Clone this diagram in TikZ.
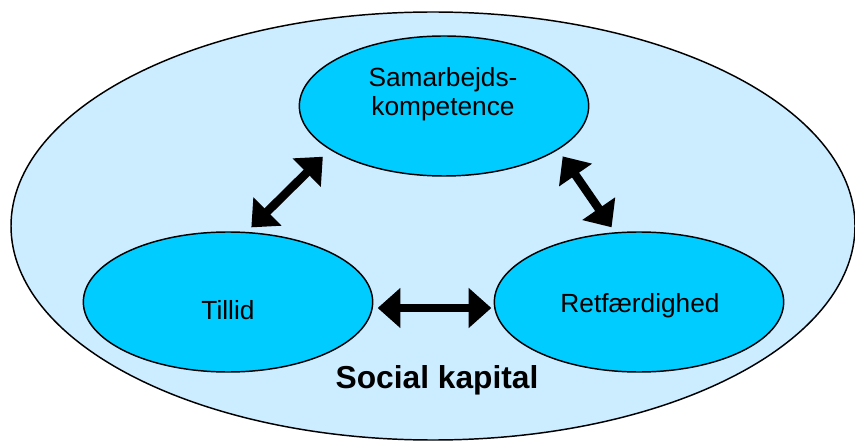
\documentclass[tikz,border=0pt]{standalone}
\usepackage{fontspec}
\setmainfont{Liberation Sans}
\usetikzlibrary{arrows.meta,positioning,shapes.geometric}
\definecolor{lysblaa}{HTML}{CCECFF}
\definecolor{cyanblaa}{HTML}{00CCFF}

\begin{document}
\begin{tikzpicture}[x=0.75pt, y=-0.75pt,
    felt/.style={ellipse, draw, line width=1.1pt, fill=cyanblaa, minimum width=217pt, minimum height=105pt},
    tekst/.style={font=\fontsize{19.7}{21.75}\selectfont, align=center},
    dobbelpil/.style={line width=6.4pt, {Triangle[length=17pt,width=29pt]}-{Triangle[length=17pt,width=29pt]}}]
      \useasboundingbox (0,0) rectangle (855,441);

      % Social kapital (ydre ellipse)
      \node[ellipse, draw, line width=1.1pt, fill=lysblaa, minimum width=633pt, minimum height=321pt] (kapital) at (433,226) {};
      \node[font=\fontsize{23.8}{28}\selectfont\bfseries] (kapitaltxt) at (437,380) {Social kapital};

      % De tre felter
      \node[felt] (samarb) at (444,106) {};
      \node[felt] (tillid) at (228,302) {};
      \node[felt] (ret) at (639,302) {};
      \node[tekst] (samarbtxt) at (443,94) {Samarbejds-\\kompetence};
      \node[tekst] (tillidtxt) at (228,310) {Tillid};
      \node[tekst] (rettxt) at (640,306) {Retfærdighed};

      % Pile mellem felterne
      \draw[dobbelpil, shorten <=4.8pt, shorten >=7.4pt] (tillid.75) -- (samarb.201);
      \draw[dobbelpil, shorten <=4.5pt, shorten >=6pt] (ret.109) -- (samarb.339);
      \draw[dobbelpil, shorten <=3.2pt, shorten >=1.7pt] ([yshift=-4.5pt]tillid.east) -- ([yshift=-4.5pt]ret.west);
\end{tikzpicture}
\end{document}
